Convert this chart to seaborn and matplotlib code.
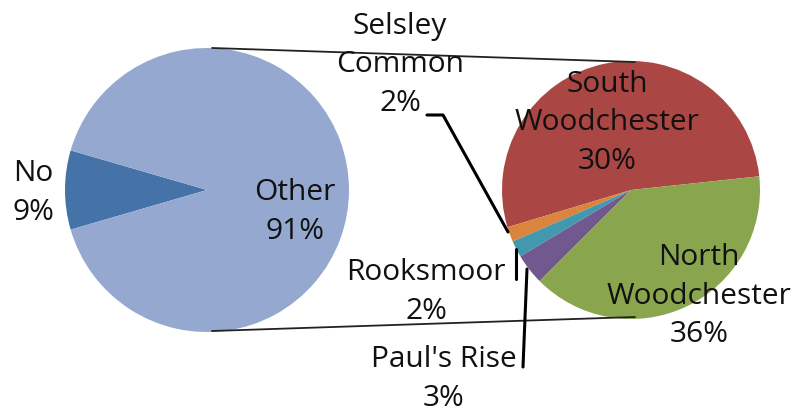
import matplotlib
matplotlib.use("Agg")
import matplotlib.pyplot as plt
import seaborn as sns

# left pie (share of all responses)
main_labels = ["No", "Other"]
main_pct = ["9%", "91%"]
main_values = [9, 91]
main_colors = ["#4572A7", "#95A9D0"]

# right pie: breakdown of "Other" (slice sizes as drawn)
sub_labels = ["South\nWoodchester", "Selsley\nCommon", "Rooksmoor", "Paul's Rise", "North\nWoodchester"]
sub_pct = ["30%", "2%", "2%", "3%", "36%"]
sub_values = [48.2, 1.7, 1.9, 3.5, 35.7]
sub_colors = ["#AA4643", "#DB843D", "#4198AF", "#71588F", "#89A54E"]

sns.set_theme(style="white")
plt.rcParams['font.family'] = ['Open Sans', 'DejaVu Sans']

W, H = 799, 414
fig = plt.figure(figsize=(W / 100, H / 100), dpi=100)
ax = fig.add_axes([0, 0, 1, 1])

def py(y):
    # pixel row (from top) to data y
    return H - y

ax.pie(main_values, colors=main_colors, startangle=163.8, counterclock=True,
       center=(207, py(191)), radius=142, frame=True,
       wedgeprops=dict(linewidth=0))
ax.pie(sub_values, colors=sub_colors, startangle=6.1, counterclock=True,
       center=(631, py(191)), radius=129, frame=True,
       wedgeprops=dict(linewidth=0))

# connector lines between the pies
ax.plot([212, 635], [py(49), py(63)], color="#222222", lw=1.3)
ax.plot([212, 635], [py(332), py(318)], color="#222222", lw=1.3)

# leader lines
ax.plot([427, 443, 508], [py(116), py(116), py(233)], color="black", lw=2.2)
ax.plot([516, 516], [py(250), py(280)], color="black", lw=2.2)
ax.plot([527, 523], [py(270), py(368)], color="black", lw=2.2)

fs = 21.5
txt = dict(ha="center", va="center", fontsize=fs, color="#111111", linespacing=1.42)
ax.text(33, py(193), main_labels[0] + "\n" + main_pct[0], **txt)
ax.text(295, py(212), main_labels[1] + "\n" + main_pct[1], **txt)
ax.text(607, py(123), sub_labels[0] + "\n" + sub_pct[0], **txt)
ax.text(400, py(65), sub_labels[1] + "\n" + sub_pct[1], **txt)
ax.text(426, py(292), sub_labels[2] + "\n" + sub_pct[2], **txt)
ax.text(444, py(379), sub_labels[3] + "\n" + sub_pct[3], **txt)
ax.text(699, py(296), sub_labels[4] + "\n" + sub_pct[4], **txt)

ax.set_xlim(0, W)
ax.set_ylim(0, H)
ax.set_aspect("equal")
ax.axis("off")

fig.savefig("out.png", dpi=100, facecolor="white")
